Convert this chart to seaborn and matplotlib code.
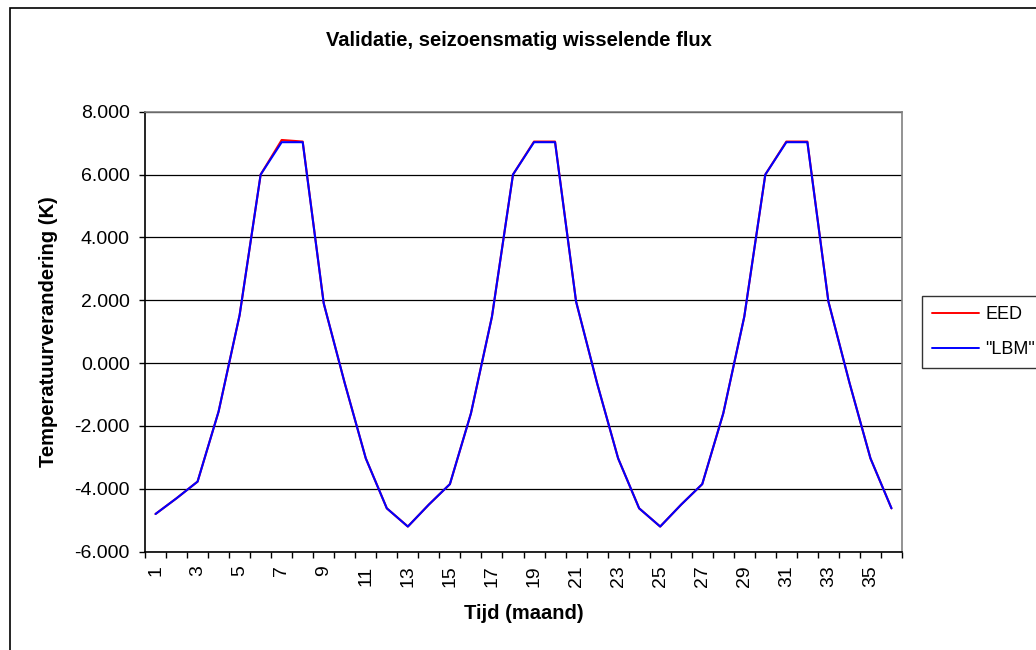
import numpy as np
import pandas as pd
import seaborn as sns
import matplotlib
matplotlib.use("Agg")
import matplotlib.pyplot as plt
from matplotlib.patches import Rectangle
from matplotlib.lines import Line2D
from matplotlib.ticker import FuncFormatter

months = list(range(1, 37))
eed = [-4.80, -4.30, -3.77, -1.54, 1.53, 6.00, 7.10, 7.05, 1.90, -0.64, -3.03, -4.62,
       -5.20, -4.50, -3.85, -1.60, 1.48, 6.00, 7.05, 7.05, 1.96, -0.64, -3.03, -4.62,
       -5.20, -4.50, -3.85, -1.60, 1.48, 6.00, 7.05, 7.05, 1.96, -0.62, -3.03, -4.62]
lbm = [-4.80, -4.30, -3.77, -1.54, 1.53, 6.00, 7.03, 7.03, 1.90, -0.64, -3.03, -4.62,
       -5.20, -4.50, -3.85, -1.60, 1.48, 6.00, 7.03, 7.03, 1.96, -0.64, -3.03, -4.62,
       -5.20, -4.50, -3.85, -1.60, 1.48, 6.00, 7.03, 7.03, 1.96, -0.62, -3.03, -4.62]
series_names = ["EED", '"LBM"']
title = "Validatie, seizoensmatig wisselende flux"
xlabel = "Tijd (maand)"
ylabel = "Temperatuurverandering (K)"
yticks = [-6, -4, -2, 0, 2, 4, 6, 8]

sns.set_theme(style="white")
plt.rcParams['font.family'] = ['Liberation Sans', 'DejaVu Sans']
plt.rcParams.update({"text.color": "black", "axes.labelcolor": "black",
                     "xtick.color": "black", "ytick.color": "black"})

df = pd.DataFrame({
    "month": months * 2,
    "value": eed + lbm,
    "series": [series_names[0]] * 36 + [series_names[1]] * 36,
})

fig = plt.figure(figsize=(10.36, 6.5), dpi=100)
ax = fig.add_axes([145 / 1036, 1 - 551.7 / 650, (902 - 145) / 1036, (551.7 - 111.7) / 650])

sns.lineplot(data=df, x="month", y="value", hue="series",
             palette={series_names[0]: "#ff0000", series_names[1]: "#0000ff"},
             linewidth=1.5, ax=ax, legend=False)

ax.set_xlim(0.5, 36.5)
ax.set_ylim(-6, 8)
ax.set_yticks(yticks)
ax.yaxis.set_major_formatter(FuncFormatter(lambda v, p: f"{v:.3f}"))
ax.grid(axis="y", color="#000000", linewidth=0.9)
ax.set_axisbelow(True)

ax.set_xticks(np.arange(0.5, 37, 1))
ax.set_xticklabels([])
odd = [m for m in months if m % 2 == 1]
ax.set_xticks(odd, minor=True)
ax.set_xticklabels([str(m) for m in odd], minor=True, rotation=90, fontsize=14)
ax.tick_params(axis="x", which="major", direction="out", length=4, width=1, color="black", bottom=True)
ax.tick_params(axis="x", which="minor", length=0, pad=10, bottom=True, labelcolor="black")
ax.tick_params(axis="y", direction="out", length=4, width=1, color="black", left=True,
               labelsize=14, pad=7, labelcolor="black")

for s in ["left", "bottom"]:
    ax.spines[s].set_color("black")
    ax.spines[s].set_linewidth(1.2)
for s in ["top", "right"]:
    ax.spines[s].set_color("#808080")
    ax.spines[s].set_linewidth(1.2)

ax.set_xlabel(xlabel, fontsize=14.5, fontweight="bold", labelpad=12, color="black")
ax.set_ylabel(ylabel, fontsize=14.5, fontweight="bold", labelpad=12, color="black")
fig.text(519 / 1036, 1 - 40 / 650, title, ha="center", va="center", fontsize=14.5,
         fontweight="bold", color="black")

handles = [Line2D([], [], color="#ff0000", linewidth=1.4), Line2D([], [], color="#0000ff", linewidth=1.4)]
leg = fig.legend(handles, series_names, loc="upper left",
                 bbox_to_anchor=(922 / 1036, 1 - 296 / 650), frameon=True, fontsize=13,
                 handlelength=2.6, handletextpad=0.35, borderpad=0.55, labelspacing=1.0,
                 fancybox=False, borderaxespad=0, labelcolor="black")
leg.get_frame().set_edgecolor("black")
leg.get_frame().set_linewidth(1.0)

fig.patches.append(Rectangle((10 / 1036, -0.1), 1.1, 1.1 - 8 / 650, transform=fig.transFigure,
                             fill=False, edgecolor="black", linewidth=1.2))

fig.savefig("out.png", dpi=100)
